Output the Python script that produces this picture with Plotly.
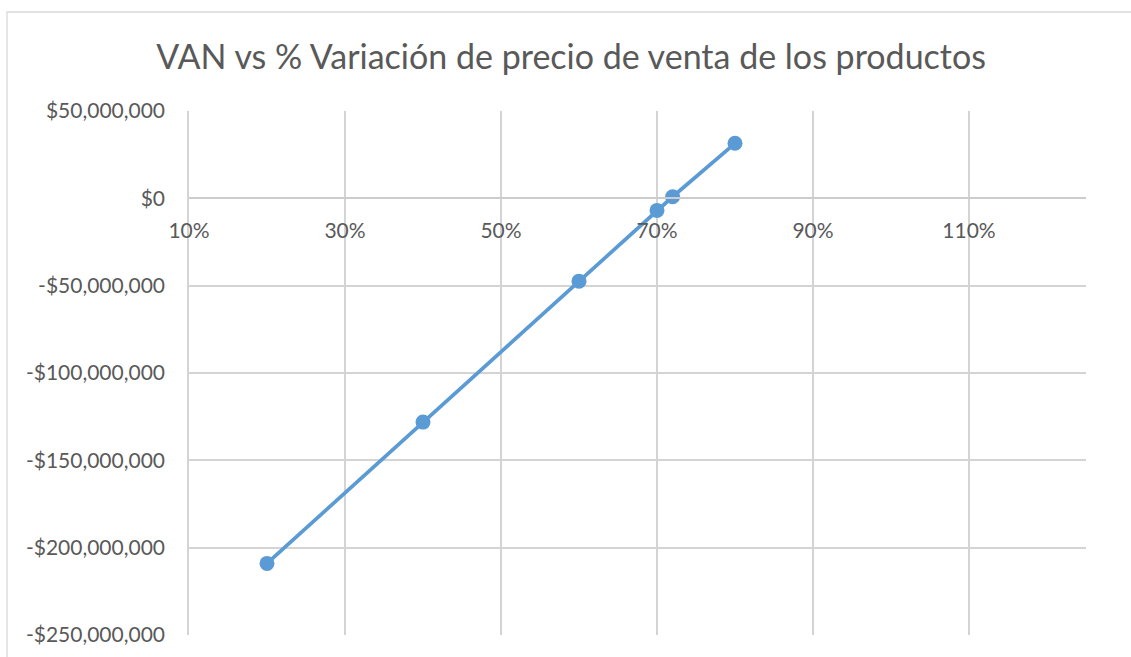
import plotly.graph_objects as go

# % variation of product selling price vs net present value (VAN)
variacion_precio = [0.20, 0.40, 0.60, 0.70, 0.72, 0.80]
van = [-209.0e6, -128.1e6, -47.4e6, -6.9e6, 0.9e6, 31.5e6]

y_ticks = [50e6, 0, -50e6, -100e6, -150e6, -200e6, -250e6]
x_ticks = [0.1, 0.3, 0.5, 0.7, 0.9, 1.1]


def money(v):
    s = "${:,.0f}".format(abs(v))
    return "-" + s if v < 0 else s


FONT = "Lato"
GRAY_TEXT = "#595959"
GRID = "#D4D4D4"
LINE_BLUE = "#5B9BD5"

y_min, y_max = -250e6, 50e6
zero_pos = (0 - y_min) / (y_max - y_min)

fig = go.Figure(
    go.Scatter(
        x=variacion_precio,
        y=van,
        mode="lines+markers",
        line=dict(color=LINE_BLUE, width=3.7),
        marker=dict(color=LINE_BLUE, size=15),
        showlegend=False,
        cliponaxis=False,
    )
)

fig.update_layout(
    width=1131,
    height=657,
    margin=dict(l=189, r=45, t=111, b=22),
    paper_bgcolor="white",
    plot_bgcolor="white",
    font=dict(family=FONT, color=GRAY_TEXT, size=21),
    title=dict(
        text="VAN vs % Variación de precio de venta de los productos",
        x=0.505,
        xanchor="center",
        y=1 - 57 / 657,
        yanchor="middle",
        font=dict(family=FONT, size=34, color=GRAY_TEXT),
    ),
    xaxis=dict(
        range=[0.1, 1.25],
        tickvals=x_ticks,
        tickformat=".0%",
        showgrid=True,
        gridcolor=GRID,
        gridwidth=1.5,
        zeroline=False,
        showline=True,
        linecolor="#CCCCCC",
        linewidth=1.8,
        anchor="free",
        position=zero_pos,
        ticks="",
        ticklabelstandoff=14,
    ),
    yaxis=dict(
        range=[y_min, y_max],
        tickvals=y_ticks,
        ticktext=[money(v) for v in y_ticks],
        showgrid=True,
        gridcolor=GRID,
        gridwidth=1.5,
        zeroline=False,
        showline=True,
        linecolor=GRID,
        linewidth=1.5,
        ticks="",
        ticklabelstandoff=18,
    ),
    shapes=[
        dict(
            type="rect",
            xref="paper",
            yref="paper",
            x0=(7 - 189) / 897,
            x1=1.2,
            y0=-0.2,
            y1=(635 - 12) / 524,
            line=dict(color="#D9D9D9", width=1.3),
            fillcolor="rgba(0,0,0,0)",
            layer="below",
        )
    ],
)

fig.write_html("out.html")
